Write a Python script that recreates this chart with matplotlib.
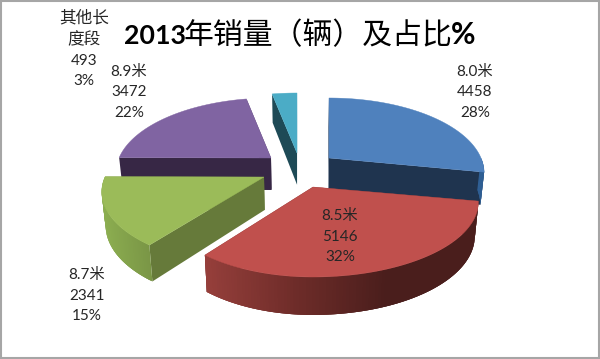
import numpy as np
import matplotlib
matplotlib.use('Agg')
import matplotlib.pyplot as plt
from matplotlib.colors import to_rgb
from matplotlib.patches import Rectangle

# Data
names = ['8.0米', '8.5米', '8.7米', '8.9米', '其他长\n度段']
sales = [4458, 5146, 2341, 3472, 493]
shares = ['28%', '32%', '15%', '22%', '3%']
title_year = '2013'
title_cn = '年销量（辆）及占比'
title_pct = '%'

# Colours for each slice
top_colors = ['#4f81bd', '#c0504d', '#9bbb59', '#8064a2', '#4bacc6']
flat_colors = ['#1f344f', '#4a1e1c', '#667a3a', '#372745', '#1e4a56']
# colours along the rim, left to right
rim_colors = [['#2f5f94', '#2f5f94'], ['#963f3b', '#6e2c29', '#4a1e1c', '#4a1e1c'],
              ['#8cae50', '#7a9646'], ['#372745', '#372745'], ['#1e4a56', '#1e4a56']]

# Layout in image pixels
apex = [(329, 158), (313, 187), (264, 177), (271, 158), (297, 153)]
rx_left = [152, 150, 159, 152, 154]
rx_right = [152, 162, 159, 152, 154]
label_pos = [(475, 72), (340, 216), (87, 275), (129, 72), (84, 17)]
line_steps = [[0, 20, 41], [0, 21, 41], [0, 21, 41], [0, 20, 41], [0, 22, 44, 64]]
RK = 72
P = 0.2

fig = plt.figure(figsize=(6, 3.59), dpi=100)
ax = fig.add_axes([0, 0, 1, 1])
ax.set_xlim(0, 600)
ax.set_ylim(359, 0)
ax.axis('off')


def rim(i, theta):
    # perspective projection, front of the disc looks bigger
    x = np.sin(theta)
    y = -np.cos(theta)
    s = 1 / (1 - P * y)
    r = np.where(x > 0, rx_right[i], rx_left[i])
    return apex[i][0] + r * x * s, apex[i][1] + RK * y * s


def lower(x, y):
    # same point on the underside of the slice
    return 300 + (x - 300) * 0.98, 158 + (y - 158) * 1.05 + 32


def quad(x1, y1, x2, y2, color, z):
    bx1, by1 = lower(x1, y1)
    bx2, by2 = lower(x2, y2)
    ax.fill([x1, x2, bx2, bx1], [y1, y2, by2, by1], color=color, lw=0, zorder=z)


total = sum(sales)
edges = np.concatenate([[0], np.cumsum(sales)]) / total * 2 * np.pi

for z, i in enumerate([4, 3, 0, 2, 1]):
    z = z * 3 + 2
    t = np.linspace(edges[i], edges[i + 1], 120)
    xs, ys = rim(i, t)
    ax0, ay0 = apex[i]

    # flat cut faces
    quad(ax0, ay0, xs[0], ys[0], flat_colors[i], z)
    quad(ax0, ay0, xs[-1], ys[-1], flat_colors[i], z)

    # outer curved face, only the part turned to the viewer
    # each piece runs over the next one so no seams show
    stops = np.array([to_rgb(c) for c in rim_colors[i]])
    pos = np.linspace(xs.min(), xs.max(), len(stops))
    for k in range(len(t) - 1):
        if np.cos((t[k] + t[k + 1]) / 2) < 0:
            xm = (xs[k] + xs[k + 1]) / 2
            col = [np.interp(xm, pos, stops[:, c]) for c in range(3)]
            e = min(k + 3, len(t) - 1)
            quad(xs[k], ys[k], xs[e], ys[e], col, z + 1)

    # top
    ax.fill(np.r_[ax0, xs], np.r_[ay0, ys], color=top_colors[i], lw=0.3, zorder=z + 2)

# Labels
for i in range(len(names)):
    lines = names[i].split('\n') + [str(sales[i]), shares[i]]
    for j, line in enumerate(lines):
        size = 12 if i == 4 and j < 2 else 11
        ax.text(label_pos[i][0], label_pos[i][1] + line_steps[i][j], line, fontsize=size,
                color='#262626', ha='center', va='center',
                family=['Lato', 'Noto Sans CJK SC'], zorder=30)

# Title, latin part bold and chinese part regular
ax.text(124, 44, title_year, fontsize=19.3, fontweight='bold', family='Lato', va='baseline', color='black', zorder=30)
ax.text(184, 44, title_cn, fontsize=21.5, family='Noto Sans CJK SC', va='baseline', color='black', zorder=30)
ax.text(451, 44, title_pct, fontsize=21.5, fontweight='bold', family='Lato', va='baseline', color='black', zorder=30)

# Frame
ax.add_patch(Rectangle((1, 0.7), 597.5, 357, fill=False, ec='#a6a6a6', lw=1.5, zorder=40))

fig.savefig('out.png', dpi=100, facecolor='white')
